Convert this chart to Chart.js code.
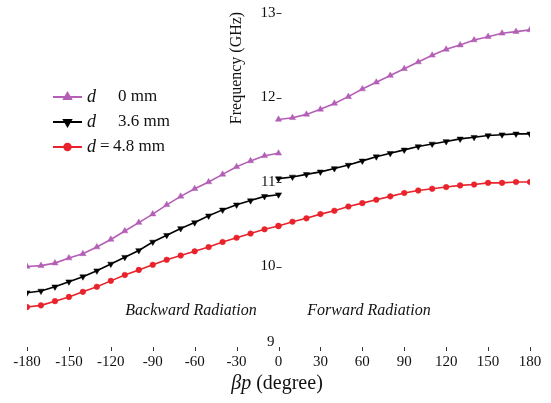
<!DOCTYPE html>
<html>
<head>
<meta charset="utf-8">
<script src="https://cdn.jsdelivr.net/npm/chart.js@4.4.0/dist/chart.umd.min.js"></script>
<style>
  html, body { margin: 0; padding: 0; background: #fff; }
  #wrap { width: 551px; height: 403px; position: relative; }
</style>
</head>
<body>
<div id="wrap"><canvas id="chart"></canvas></div>
<script>
// 相位角（度）：后向 / 前向两段
const backAngles = [-180, -170, -160, -150, -140, -130, -120, -110, -100, -90, -80, -70, -60, -50, -40, -30, -20, -10, 0];
const fwdAngles = [0, 10, 20, 30, 40, 50, 60, 70, 80, 90, 100, 110, 120, 130, 140, 150, 160, 170, 180];

// 频率 (GHz)
const d0Back = [10.00, 10.01, 10.04, 10.10, 10.15, 10.23, 10.32, 10.42, 10.52, 10.62, 10.73, 10.83, 10.92, 11.00, 11.09, 11.18, 11.25, 11.31, 11.34];
const d0Fwd = [11.74, 11.76, 11.80, 11.86, 11.93, 12.01, 12.10, 12.18, 12.26, 12.34, 12.42, 12.50, 12.57, 12.62, 12.68, 12.72, 12.76, 12.78, 12.80];
const d36Back = [9.69, 9.71, 9.76, 9.82, 9.88, 9.95, 10.03, 10.11, 10.19, 10.29, 10.37, 10.45, 10.52, 10.60, 10.67, 10.73, 10.78, 10.83, 10.85];
const d36Fwd = [11.04, 11.06, 11.09, 11.12, 11.16, 11.20, 11.25, 11.30, 11.34, 11.38, 11.42, 11.45, 11.48, 11.51, 11.53, 11.55, 11.56, 11.57, 11.57];
const d48Back = [9.52, 9.54, 9.59, 9.64, 9.70, 9.76, 9.83, 9.90, 9.96, 10.02, 10.08, 10.13, 10.18, 10.23, 10.29, 10.34, 10.39, 10.44, 10.48];
const d48Fwd = [10.48, 10.53, 10.57, 10.62, 10.66, 10.71, 10.75, 10.79, 10.83, 10.87, 10.90, 10.92, 10.94, 10.96, 10.97, 10.99, 10.99, 11.00, 11.00];

const xTickValues = [-180, -150, -120, -90, -60, -30, 0, 30, 60, 90, 120, 150, 180];
const yTickValues = [9, 10, 11, 12, 13];

const seriesStyles = [
  { key: 'd0', color: '#b45fb6', point: 'triangle', rotation: 0, rest: '0 mm', eq: false },
  { key: 'd36', color: '#000000', point: 'triangle', rotation: 180, rest: '3.6 mm', eq: false },
  { key: 'd48', color: '#e8232b', point: 'circle', rotation: 0, rest: '4.8 mm', eq: true }
];

const SERIF = '"Liberation Serif", "DejaVu Serif", serif';

function pts(xs, ys) {
  return xs.map((x, i) => ({ x: x, y: ys[i] }));
}

function makeSet(style, xs, ys) {
  return {
    label: style.key,
    data: pts(xs, ys),
    borderColor: style.color,
    backgroundColor: style.color,
    borderWidth: 1.6,
    pointStyle: style.point,
    pointRotation: style.rotation,
    pointRadius: style.point === 'circle' ? 2.8 : 3.6,
    pointBorderWidth: 0.5,
    tension: 0
  };
}

const datasets = [
  makeSet(seriesStyles[0], backAngles, d0Back),
  makeSet(seriesStyles[0], fwdAngles, d0Fwd),
  makeSet(seriesStyles[1], backAngles, d36Back),
  makeSet(seriesStyles[1], fwdAngles, d36Fwd),
  makeSet(seriesStyles[2], backAngles, d48Back),
  makeSet(seriesStyles[2], fwdAngles, d48Fwd)
];

// 坐标刻度、标题、区域文字和图例
const annotate = {
  id: 'annotate',
  afterDraw(chart) {
    const ctx = chart.ctx;
    const xs = chart.scales.x;
    const ys = chart.scales.y;
    const x0 = xs.getPixelForValue(0);
    const by = chart.chartArea.bottom;
    ctx.save();
    ctx.fillStyle = '#111';
    ctx.strokeStyle = '#333';
    ctx.lineWidth = 1;

    // 纵轴（位于 0°）刻度
    ctx.font = '15px ' + SERIF;
    ctx.textAlign = 'right';
    ctx.textBaseline = 'middle';
    yTickValues.forEach(v => {
      const py = ys.getPixelForValue(v);
      if (v === yTickValues[0]) {
        ctx.fillText(String(v), x0 - 4, py - 9);
        return;
      }
      ctx.fillText(String(v), x0 - 3, py);
      ctx.beginPath();
      ctx.moveTo(x0 - 2, Math.round(py) + 0.5);
      ctx.lineTo(x0 + 3, Math.round(py) + 0.5);
      ctx.stroke();
    });

    // 横轴刻度
    ctx.textAlign = 'center';
    xTickValues.forEach(v => {
      const px = xs.getPixelForValue(v);
      ctx.beginPath();
      ctx.moveTo(Math.round(px) + 0.5, by - 4);
      ctx.lineTo(Math.round(px) + 0.5, by);
      ctx.stroke();
      ctx.fillText(String(v), px, by + 11);
    });

    // 纵轴标题
    ctx.save();
    ctx.translate(237, 68);
    ctx.rotate(-Math.PI / 2);
    ctx.font = '16px ' + SERIF;
    ctx.textAlign = 'center';
    ctx.fillText('Frequency (GHz)', 0, 0);
    ctx.restore();

    // 横轴标题 βp (degree)
    ctx.textAlign = 'left';
    const t1 = 'βp';
    const t2 = ' (degree)';
    ctx.font = 'italic 20px ' + SERIF;
    const w1 = ctx.measureText(t1).width;
    ctx.font = '20px ' + SERIF;
    const w2 = ctx.measureText(t2).width;
    const sx = 277 - (w1 + w2) / 2;
    ctx.font = 'italic 20px ' + SERIF;
    ctx.fillText(t1, sx, 384);
    ctx.font = '20px ' + SERIF;
    ctx.fillText(t2, sx + w1, 384);

    // 区域说明
    ctx.font = 'italic 16px ' + SERIF;
    ctx.textAlign = 'center';
    ctx.fillText('Backward Radiation', 191, 311);
    ctx.fillText('Forward Radiation', 369, 311);

    // 图例
    const rows = [97, 122, 147];
    seriesStyles.forEach((s, i) => {
      const y = rows[i];
      ctx.strokeStyle = s.color;
      ctx.lineWidth = 2;
      ctx.beginPath();
      ctx.moveTo(53, y);
      ctx.lineTo(82, y);
      ctx.stroke();
      ctx.fillStyle = s.color;
      Chart.helpers.drawPoint(ctx, {
        pointStyle: s.point,
        rotation: s.rotation,
        radius: s.point === 'circle' ? 3.2 : 4,
        borderWidth: 0.5
      }, 67.5, y);
      ctx.fillStyle = '#111';
      ctx.textAlign = 'left';
      ctx.font = 'italic 18px ' + SERIF;
      ctx.fillText('d', 87, y);
      ctx.font = '17px ' + SERIF;
      if (s.eq) {
        ctx.fillText('=', 100, y);
        ctx.fillText(s.rest, 113, y);
      } else {
        ctx.fillText(s.rest, 118, y);
      }
    });
    ctx.restore();
  }
};

new Chart(document.getElementById('chart'), {
  type: 'line',
  data: { datasets: datasets },
  options: {
    responsive: true,
    maintainAspectRatio: false,
    animation: false,
    layout: { padding: { left: 27, right: 21, top: 13, bottom: 52 } },
    plugins: {
      legend: { display: false },
      tooltip: { enabled: false }
    },
    scales: {
      x: {
        type: 'linear',
        display: false,
        min: -180,
        max: 180
      },
      y: {
        type: 'linear',
        display: false,
        min: 9,
        max: 13
      }
    }
  },
  plugins: [annotate]
});
</script>
</body>
</html>
